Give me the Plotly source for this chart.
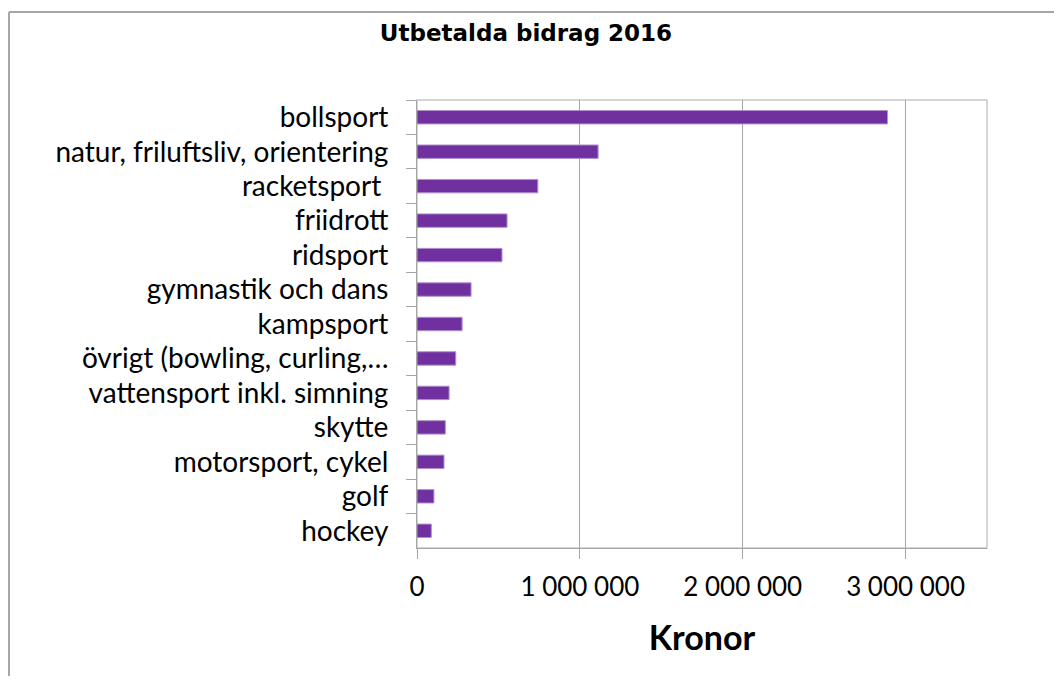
import plotly.graph_objects as go

categories = [
    "bollsport",
    "natur, friluftsliv, orientering",
    "racketsport ",
    "friidrott",
    "ridsport",
    "gymnastik och dans",
    "kampsport",
    "övrigt (bowling, curling,…",
    "vattensport inkl. simning",
    "skytte",
    "motorsport, cykel",
    "golf",
    "hockey",
]
values = [2889000, 1112000, 742000, 553000, 522000, 332000, 277000,
          238000, 197000, 174000, 166000, 104000, 88000]

x_tickvals = [0, 1000000, 2000000, 3000000]
x_ticktext = ["0", "1 000 000", "2 000 000", "3 000 000"]

# the page body has an 8px margin: figure coordinates = screen - 8
OFF = 8
W, H = 1062 - 2 * OFF, 684 - 2 * OFF
L, R, T, B = 417 - OFF, 987 - OFF, 100 - OFF, 548 - OFF
FONT = "Lato"

fig = go.Figure()
fig.add_trace(go.Bar(
    x=values, y=categories, orientation="h",
    marker=dict(color="#7030A0", line=dict(color="#B392CF", width=1)),
    hoverinfo="x+y",
))

pw = R - L
ph = B - T


def px_x(p):
    return (p - OFF - L) / pw


def px_y(p):
    return (B - (p - OFF)) / ph


fig.update_layout(
    width=W, height=H,
    margin=dict(l=L, r=W - R, t=T, b=H - B, pad=0),
    paper_bgcolor="white", plot_bgcolor="white",
    bargap=0.61,
    showlegend=False,
    title=dict(text="<b>Utbetalda bidrag 2016</b>", x=(526 - OFF) / W, xanchor="center",
               xref="container", yref="container", y=1 - (33 - OFF) / H, yanchor="middle",
               font=dict(family="DejaVu Sans", size=23, color="#000")),
    xaxis=dict(range=[0, 3500000], tickvals=x_tickvals, ticktext=x_ticktext,
               showgrid=True, gridcolor="#A6A6A6", gridwidth=1,
               showline=True, linecolor="#A6A6A6", linewidth=1,
               ticks="outside", ticklen=10, tickcolor="#A6A6A6",
               tickfont=dict(family=FONT, size=26, color="#000"),
               ticklabelstandoff=6,
               zeroline=False,
               title=dict(text="<b>Kronor</b>", standoff=24,
                          font=dict(family=FONT, size=34, color="#000"))),
    yaxis=dict(autorange="reversed", type="category",
               showline=True, linecolor="#A6A6A6", linewidth=1,
               ticks="outside", ticklen=10, tickcolor="#A6A6A6",
               tickson="boundaries",
               tickfont=dict(family=FONT, size=28, color="#000"),
               ticklabelstandoff=22,
               showgrid=False),
    shapes=[
        # plot area border (top and right)
        dict(type="rect", xref="paper", yref="paper", x0=0, x1=1, y0=0, y1=1,
             line=dict(color="#C8C8C8", width=1.5), layer="below"),
        # outer chart frame: left and top edges (right/bottom are outside the view)
        dict(type="line", xref="paper", yref="paper",
             x0=px_x(9), x1=px_x(9), y0=px_y(720), y1=px_y(12),
             line=dict(color="#A6A6A6", width=2)),
        dict(type="line", xref="paper", yref="paper",
             x0=px_x(9), x1=px_x(1100), y0=px_y(12), y1=px_y(12),
             line=dict(color="#A6A6A6", width=2)),
    ],
)

fig.write_html("out.html")
